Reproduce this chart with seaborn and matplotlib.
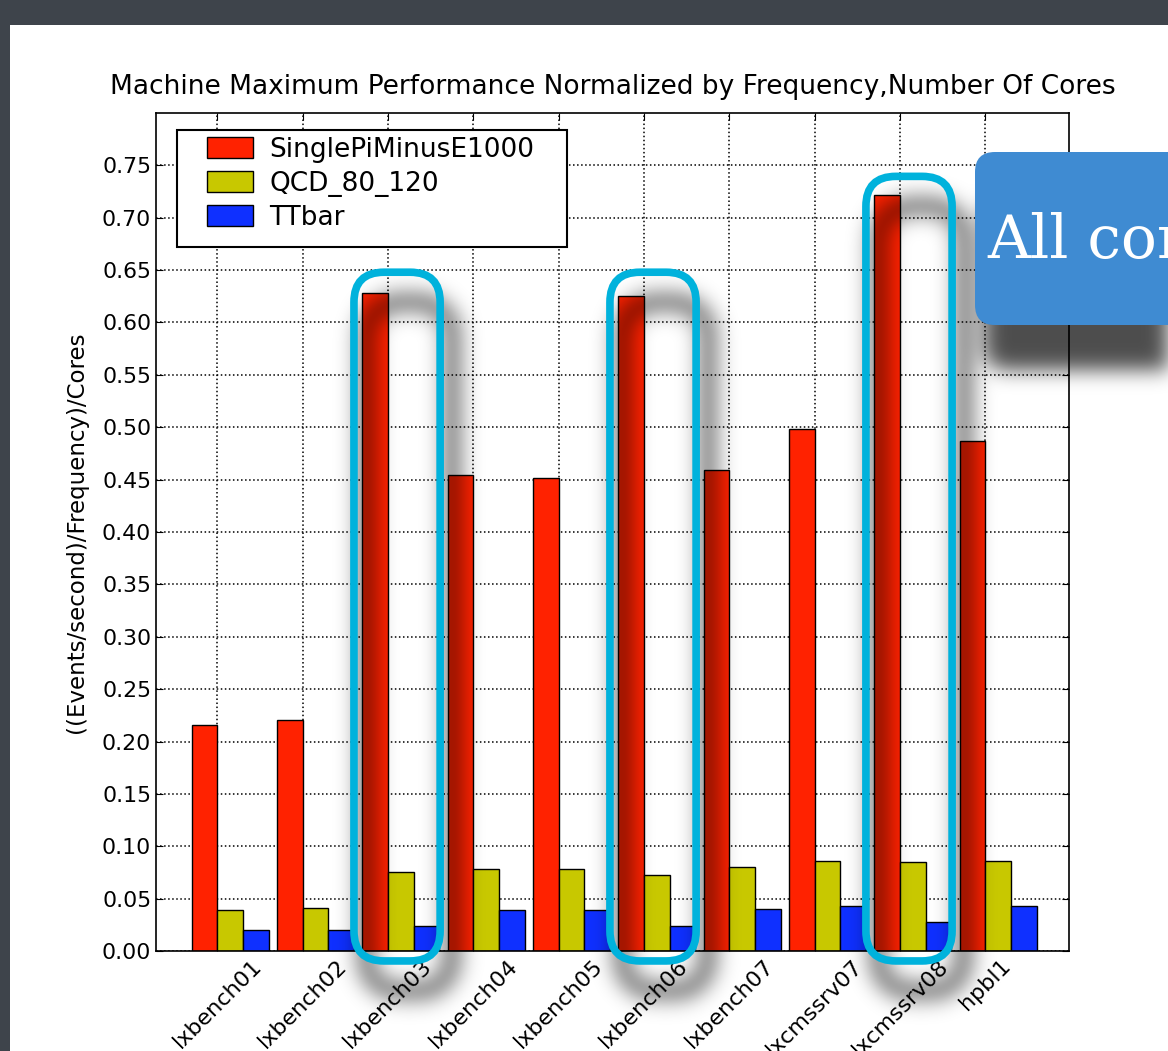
import numpy as np
import pandas as pd
import matplotlib.pyplot as plt
import seaborn as sns
from matplotlib.patches import FancyBboxPatch, Rectangle

# Data
machines = ['lxbench01', 'lxbench02', 'lxbench03', 'lxbench04', 'lxbench05',
            'lxbench06', 'lxbench07', 'lxcmssrv07', 'lxcmssrv08', 'hpbl1']
single_pi = [0.216, 0.221, 0.628, 0.454, 0.452, 0.625, 0.459, 0.498, 0.722, 0.487]
qcd = [0.039, 0.041, 0.075, 0.078, 0.078, 0.073, 0.080, 0.086, 0.085, 0.086]
ttbar = [0.020, 0.020, 0.024, 0.039, 0.039, 0.024, 0.040, 0.043, 0.028, 0.043]
series_names = ['SinglePiMinusE1000', 'QCD_80_120', 'TTbar']
colors = ['#ff2200', '#c8c800', '#0f30ff']
highlighted = [2, 5, 8]  # lxbench03, lxbench06, lxcmssrv08

df = pd.DataFrame({
    'Machine': machines * 3,
    'Benchmark': [series_names[0]] * 10 + [series_names[1]] * 10 + [series_names[2]] * 10,
    'Value': single_pi + qcd + ttbar,
})

W, H, DPI = 1168, 1051, 100
fig = plt.figure(figsize=(W / DPI, H / DPI), dpi=DPI)
fig.patch.set_facecolor('#3e444b')
# white slide
fig.add_artist(Rectangle((10 / W, 0), 1, 1 - 25 / H, transform=fig.transFigure,
                         facecolor='white', edgecolor='none', zorder=-1))

ax = fig.add_axes([156 / W, 100 / H, 913 / W, 838 / H])
sns.barplot(data=df, x='Machine', y='Value', hue='Benchmark', palette=colors,
            width=0.9, saturation=1, edgecolor='black', linewidth=1, ax=ax, zorder=2)

ax.set_xlim(-0.87, 9.83)
ax.set_ylim(0, 0.8)
yt = np.arange(0, 0.76, 0.05)
ax.set_yticks(yt)
ax.set_yticklabels([f'{v:.2f}' for v in yt], fontsize=15.8)
ax.set_xticks(np.arange(len(machines)) - 0.15)
ax.set_xticklabels(machines, rotation=45, ha='center', fontsize=16)
ax.tick_params(direction='in', length=5, color='black', top=True, right=True)
ax.grid(True, linestyle=':', color='black', linewidth=1.1, zorder=0)
ax.set_axisbelow(True)
for s in ax.spines.values():
    s.set_color('black')
    s.set_linewidth(1.2)
ax.set_xlabel('')
ax.set_ylabel('((Events/second)/Frequency)/Cores', fontsize=16.5, labelpad=10)
ax.set_title('Machine Maximum Performance Normalized by Frequency,Number Of Cores',
             fontsize=19, pad=14)

handles, labels = ax.get_legend_handles_labels()
ax.legend(handles, labels, loc='upper left', fontsize=19, frameon=False,
          bbox_to_anchor=(207 / W, 1 - 137 / H), bbox_transform=fig.transFigure,
          borderaxespad=0, borderpad=0, handlelength=1.75, handleheight=0.83,
          handletextpad=0.62, labelspacing=0.3)
# legend frame
ax.add_artist(Rectangle((177 / W, 1 - 247 / H), 390 / W, 117 / H, transform=fig.transFigure,
                        facecolor='white', edgecolor='black', linewidth=1.5, zorder=4))
ax.get_legend().set_zorder(5)

# ---- slide decorations: highlight boxes, callout and their shadows ----
fig.canvas.draw()


def to_px(xy):
    x, y = ax.transData.transform(xy)
    return x, H - y


def rrect_sdf(x0, y0, x1, y1, r):
    yy, xx = np.mgrid[0:H, 0:W] + 0.5
    cx, cy = (x0 + x1) / 2, (y0 + y1) / 2
    hx, hy = (x1 - x0) / 2 - r, (y1 - y0) / 2 - r
    qx, qy = np.abs(xx - cx) - hx, np.abs(yy - cy) - hy
    out = np.hypot(np.maximum(qx, 0), np.maximum(qy, 0))
    return out + np.minimum(np.maximum(qx, qy), 0) - r


def blur(a, s):
    r = int(3 * s)
    k = np.exp(-np.arange(-r, r + 1) ** 2 / (2 * s * s))
    k /= k.sum()
    a = np.apply_along_axis(lambda v: np.convolve(v, k, 'same'), 0, a)
    return np.apply_along_axis(lambda v: np.convolve(v, k, 'same'), 1, a)


ring_mask = np.zeros((H, W))
boxes = []
for i in highlighted:
    top = 0.7395 if i == 8 else 0.648
    x0, y1 = to_px((i - 0.55, -0.0095))
    x1, y0 = to_px((i + 0.46, top))
    boxes.append((x0, y0, x1, y1))
    d = rrect_sdf(x0 + 12, y0 + 30, x1 + 12, y1 + 30, 32)
    ring_mask = np.maximum(ring_mask, (np.abs(d) < 6).astype(float))

cx0, cy0, cx1, cy1 = 975, 152, 1240, 325
call_mask = (rrect_sdf(cx0 + 10, cy0 + 45, cx1, cy1 + 45, 20) < 0).astype(float)

shadow = np.clip(blur(ring_mask, 11) * 0.85 + blur(call_mask, 10) * 0.7, 0, 0.75)
rgba = np.zeros((H, W, 4))
rgba[..., 3] = shadow
ov = fig.add_axes([0, 0, 1, 1], zorder=3)
ov.imshow(rgba, aspect='auto', interpolation='bilinear')
ov.set_axis_off()

for (x0, y0, x1, y1) in boxes:
    fig.add_artist(FancyBboxPatch((x0 / DPI, (H - y1) / DPI), (x1 - x0) / DPI, (y1 - y0) / DPI,
                                  boxstyle='round,pad=0,rounding_size=0.3',
                                  transform=fig.dpi_scale_trans, facecolor='none',
                                  edgecolor='#00b2dc', linewidth=5.5, zorder=4))

fig.add_artist(FancyBboxPatch((cx0 / DPI, (H - cy1) / DPI), (cx1 - cx0) / DPI, (cy1 - cy0) / DPI,
                              boxstyle='round,pad=0,rounding_size=0.2',
                              transform=fig.dpi_scale_trans, facecolor='#3f8bd2',
                              edgecolor='none', zorder=6))
fig.text(987 / W, 1 - 258 / H, 'All cores', color='white', fontsize=43,
         family='DejaVu Serif', ha='left', va='baseline', zorder=7)

fig.savefig('out.png', dpi=DPI, facecolor=fig.get_facecolor())
